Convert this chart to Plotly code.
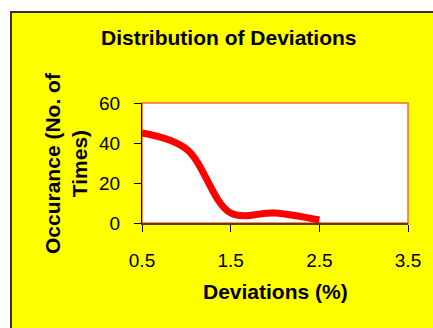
import plotly.graph_objects as go

# Data
deviations = [0.5, 1.0, 1.5, 2.0, 2.5]
occurrences = [45, 37, 5, 5, 1.5]
x_tick_vals = [0.5, 1.5, 2.5, 3.5]
x_tick_text = ["0.5", "1.5", "2.5", "3.5"]
y_tick_vals = [0, 20, 40, 60]

W, H = 433, 328
L, R, T, B = 142, 25, 103, 105
pw, ph = W - L - R, H - T - B

def px_x(p):
    return (p - L) / pw

def px_y(p):
    return (H - B - p) / ph

FONT = "Arial, 'Liberation Sans', sans-serif"

fig = go.Figure()
fig.add_trace(go.Scatter(
    x=deviations, y=occurrences, mode="lines",
    line=dict(color="#FF0000", width=7, shape="spline", smoothing=1.0),
    showlegend=False, hoverinfo="skip", cliponaxis=False,
))

shapes = [
    dict(type="rect", xref="paper", yref="paper", layer="below",
         x0=px_x(11), x1=px_x(445), y0=px_y(340), y1=px_y(12),
         fillcolor="#FFFF00", line=dict(color="#333333", width=2)),
    dict(type="rect", xref="paper", yref="paper", layer="below",
         x0=0, x1=1, y0=0, y1=1,
         fillcolor="#FFFFFF", line=dict(color="#FF6A2A", width=1.5)),
]

annotations = [
    dict(text="<b>Distribution of Deviations</b>", xref="paper", yref="paper",
         x=px_x(229), y=px_y(37), xanchor="center", yanchor="middle",
         showarrow=False, font=dict(family=FONT, size=21, color="#000000")),
    dict(text="<b>Occurance (No. of<br>Times)</b>", xref="paper", yref="paper",
         x=px_x(66), y=px_y(163), xanchor="center", yanchor="middle",
         textangle=-90, showarrow=False,
         font=dict(family=FONT, size=21, color="#000000")),
    dict(text="<b>Deviations (%)</b>", xref="paper", yref="paper",
         x=px_x(275.5), y=px_y(291), xanchor="center", yanchor="middle",
         showarrow=False, font=dict(family=FONT, size=21, color="#000000")),
]

fig.update_layout(
    width=W, height=H,
    margin=dict(l=L, r=R, t=T, b=B, pad=0),
    paper_bgcolor="#FFFFFF",
    plot_bgcolor="rgba(0,0,0,0)",
    shapes=shapes,
    annotations=annotations,
    font=dict(family=FONT, size=19, color="#000000"),
    xaxis=dict(range=[0.5, 3.5], tickvals=x_tick_vals, ticktext=x_tick_text,
               showgrid=False, zeroline=False, showline=True,
               linecolor="#5a3a20", linewidth=1.5,
               ticks="outside", ticklen=7, tickcolor="#000000", tickwidth=1,
               ticklabelstandoff=12,
               tickfont=dict(family=FONT, size=19, color="#000000"),
               fixedrange=True),
    yaxis=dict(range=[0, 60], tickvals=y_tick_vals,
               showgrid=False, zeroline=False, showline=True,
               linecolor="#000000", linewidth=1,
               ticks="outside", ticklen=7, tickcolor="#000000", tickwidth=1,
               ticklabelstandoff=10,
               tickfont=dict(family=FONT, size=19, color="#000000"),
               fixedrange=True),
)

fig.write_html("out.html", config={"displayModeBar": False},
               post_script="document.body.style.margin='0';document.body.style.overflow='hidden';")
